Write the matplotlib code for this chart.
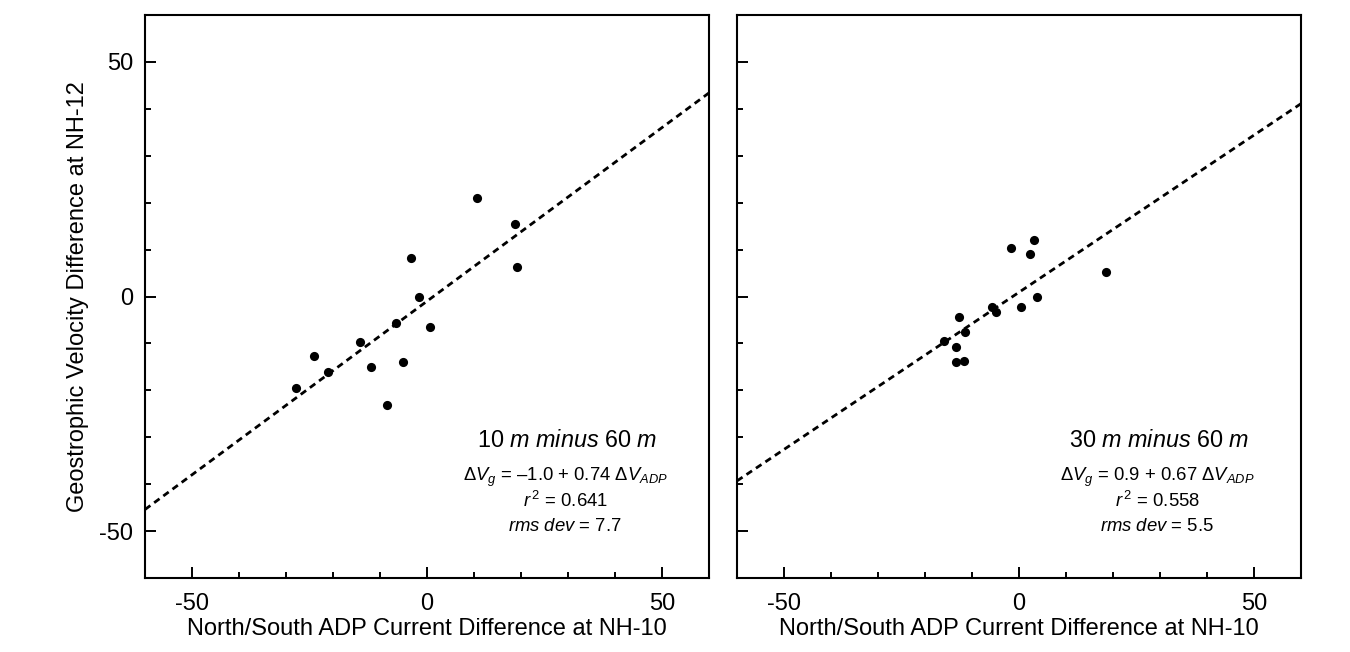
import numpy as np
import matplotlib
matplotlib.use("Agg")
import matplotlib.pyplot as plt
from matplotlib.ticker import MultipleLocator

plt.rcParams['font.family'] = ['Liberation Sans', 'DejaVu Sans']
plt.rcParams['mathtext.fontset'] = 'custom'
plt.rcParams['mathtext.rm'] = 'Liberation Sans'
plt.rcParams['mathtext.it'] = 'Liberation Sans:italic'
plt.rcParams['axes.unicode_minus'] = False

# 10 m minus 60 m
adp_10 = [10.7, 18.8, 19.1, -3.4, -1.8, 0.7, -6.7, -5.2, -8.5, -14.3, -12.0, -24.1, -21.1, -27.8]
vg_10 = [20.9, 15.5, 6.2, 8.3, -0.1, -6.6, -5.6, -14.0, -23.1, -9.7, -15.0, -12.6, -16.0, -19.4]
fit_10 = (-1.0, 0.74)

# 30 m minus 60 m
adp_30 = [-1.7, 3.1, 2.3, 18.6, 3.9, 0.4, -5.7, -4.9, -12.8, -11.5, -16.0, -13.5, -13.5, -11.6]
vg_30 = [10.4, 12.0, 9.1, 5.2, -0.1, -2.3, -2.2, -3.4, -4.4, -7.5, -9.5, -10.7, -14.0, -13.8]
fit_30 = (0.9, 0.67)

titles = [r"10 $m$ $minus$ 60 $m$", r"30 $m$ $minus$ 60 $m$"]
eqs = [r"$\Delta V_g$ = –1.0 + 0.74 $\Delta V_{ADP}$", r"$\Delta V_g$ = 0.9 + 0.67 $\Delta V_{ADP}$"]
r2s = [r"$r^{\,2}$ = 0.641", r"$r^{\,2}$ = 0.558"]
rms = [r"$rms\ dev$ = 7.7", r"$rms\ dev$ = 5.5"]

W, H = 1350, 652
fig = plt.figure(figsize=(W / 100, H / 100), dpi=100)
ax1 = fig.add_axes([145 / W, (H - 578) / H, 564 / W, 563 / H])
ax2 = fig.add_axes([737 / W, (H - 578) / H, 564 / W, 563 / H])

panels = [(ax1, adp_10, vg_10, fit_10), (ax2, adp_30, vg_30, fit_30)]
for i, (ax, xs, ys, fit) in enumerate(panels):
    xl = np.array([-60, 60])
    ax.plot(xl, fit[0] + fit[1] * xl, color='black', lw=2, linestyle=(0, (2.4, 1.7)))
    ax.plot(xs, ys, 'o', color='black', markersize=6.6, markeredgewidth=0)
    ax.set_xlim(-60, 60)
    ax.set_ylim(-60, 60)
    ax.xaxis.set_major_locator(MultipleLocator(50))
    ax.xaxis.set_minor_locator(MultipleLocator(10))
    ax.yaxis.set_major_locator(MultipleLocator(50))
    ax.yaxis.set_minor_locator(MultipleLocator(10))
    ax.tick_params(which='major', direction='in', length=8, width=1.4, labelsize=17)
    ax.tick_params(which='minor', direction='in', length=4.5, width=1.4)
    ax.tick_params(axis='x', pad=11)
    ax.tick_params(axis='y', pad=8.5)
    for s in ax.spines.values():
        s.set_linewidth(1.5)
    ax.set_xlabel("North/South ADP Current Difference at NH-10", fontsize=17, labelpad=2)

    ax.text(0.748, 0.245, titles[i], transform=ax.transAxes, ha='center', va='center', fontsize=16.8)
    ax.text(0.745, 0.178, eqs[i], transform=ax.transAxes, ha='center', va='center', fontsize=13.3)
    ax.text(0.745, 0.136, r2s[i], transform=ax.transAxes, ha='center', va='center', fontsize=13.3)
    ax.text(0.745, 0.092, rms[i], transform=ax.transAxes, ha='center', va='center', fontsize=13.3)

ax1.set_ylabel("Geostrophic Velocity Difference at NH-12", fontsize=17, labelpad=7)
ax2.tick_params(axis='y', labelleft=False)

fig.savefig("out.png", dpi=100)
